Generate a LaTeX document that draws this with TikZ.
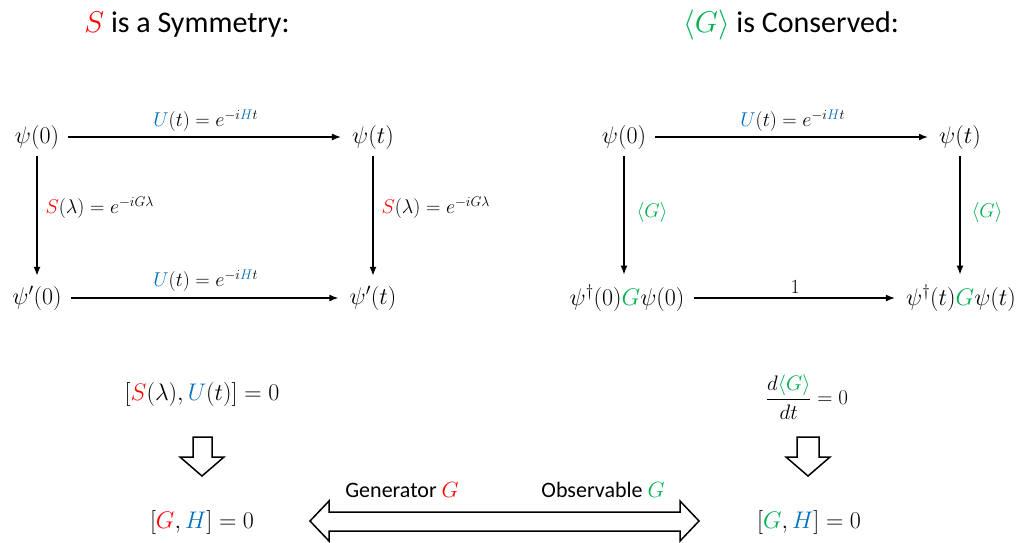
\RequirePackage{fix-cm}
\documentclass[tikz,border=0pt]{standalone}
\usepackage{amsmath}
\usepackage{fontspec}
\setmainfont{Carlito}
\usetikzlibrary{arrows.meta}
\definecolor{mred}{RGB}{255,0,0}
\definecolor{mblue}{RGB}{0,112,192}
\definecolor{mgreen}{RGB}{0,176,80}
\newcommand{\cR}[1]{{\color{mred}#1}}
\newcommand{\cB}[1]{{\color{mblue}#1}}
\newcommand{\cG}[1]{{\color{mgreen}#1}}
\begin{document}
\begin{tikzpicture}[x=1pt,y=-1pt,
  state/.style={font=\fontsize{24}{28}\selectfont, inner sep=0pt},
  lab/.style={font=\fontsize{20}{24}\selectfont, inner sep=0pt},
  formula/.style={font=\fontsize{24}{28}\selectfont, inner sep=0pt},
  ttl/.style={font=\fontsize{30}{35}\selectfont, inner sep=0pt},
  side/.style={font=\fontsize{22}{26}\selectfont, inner sep=0pt},
  arr/.style={line width=1.4pt, -{Latex[length=9pt,width=7pt]}, shorten <=9pt, shorten >=11pt},
  hollow/.style={line width=1.5pt, draw=black, fill=white, line join=miter}]
\useasboundingbox (0,0) rectangle (1022,542);

% titles
\node[ttl] (t1) at (187,25) {$\cR{S}$ is a Symmetry:};
\node[ttl] (t2) at (791,25) {$\cG{\langle G\rangle}$ is Conserved:};

% left square
\node[state] (a) at (37,137) {$\psi(0)$};
\node[state] (b) at (373,137) {$\psi(t)$};
\node[state] (c) at (37,298) {$\psi'(0)$};
\node[state] (d) at (373,298) {$\psi'(t)$};
\draw[arr] (a) -- node[lab, above=5pt] (la) {$\cB{U}(t)=e^{-i\cB{H}t}$} (b);
\draw[arr] (c) -- node[lab, above=6pt] (lc) {$\cB{U}(t)=e^{-i\cB{H}t}$} (d);
\draw[arr, shorten <=7pt, shorten >=10pt] (a.south) -- node[lab, right=8pt, pos=0.43] (lac) {$\cR{S}(\lambda)=e^{-iG\lambda}$} (a.south |- c.north);
\draw[arr, shorten <=7pt, shorten >=10pt] (b.south) -- node[lab, right=8pt, pos=0.43] (lbd) {$\cR{S}(\lambda)=e^{-iG\lambda}$} (b.south |- d.north);

% right square
\node[state] (e) at (624,137) {$\psi(0)$};
\node[state] (f) at (960,137) {$\psi(t)$};
\node[state] (g) at (627,298) {$\psi^\dagger(0)\cG{G}\psi(0)$};
\node[state] (h) at (961,298) {$\psi^\dagger(t)\cG{G}\psi(t)$};
\draw[arr] (e) -- node[lab, above=5pt] (le) {$\cB{U}(t)=e^{-i\cB{H}t}$} (f);
\draw[arr] (g) -- node[lab, above=4pt] (lg) {$1$} (h);
\draw[arr, shorten <=7pt, shorten >=10pt] (e.south) -- node[lab, right=12pt, pos=0.47] (leg) {$\cG{\langle G\rangle}$} (e.south |- g.north);
\draw[arr, shorten <=7pt, shorten >=10pt] (f.south) -- node[lab, right=11pt, pos=0.47] (lfh) {$\cG{\langle G\rangle}$} (f.south |- h.north);

% bottom formulas
\node[formula] (p) at (202,394) {$[\cR{S}(\lambda),\cB{U}(t)]=0$};
\node[formula] (q) at (202,522) {$[\cR{G},\cB{H}]=0$};
\node[formula, font=\fontsize{21}{25}\selectfont] (r) at (807,397) {$\dfrac{d\cG{\langle G\rangle}}{dt}=0$};
\node[formula] (s) at (809,522) {$[\cG{G},\cB{H}]=0$};

% hollow arrows
\draw[hollow] (193,437) -- (212,437) -- (212,457) -- (224,457) -- (202,476) -- (180,457) -- (193,457) -- cycle;
\draw[hollow] (797,437) -- (819,437) -- (819,457) -- (830,457) -- (808,476) -- (786,457) -- (797,457) -- cycle;
\draw[hollow] (310,521) -- (329,501) -- (329,512) -- (680,512) -- (680,501) -- (699,521) -- (680,541) -- (680,531) -- (329,531) -- (329,541) -- cycle;

\node[side] (gen) at (402,490) {Generator $\cR{G}$};
\node[side] (obs) at (603,490) {Observable $\cG{G}$};
\end{tikzpicture}
\end{document}
